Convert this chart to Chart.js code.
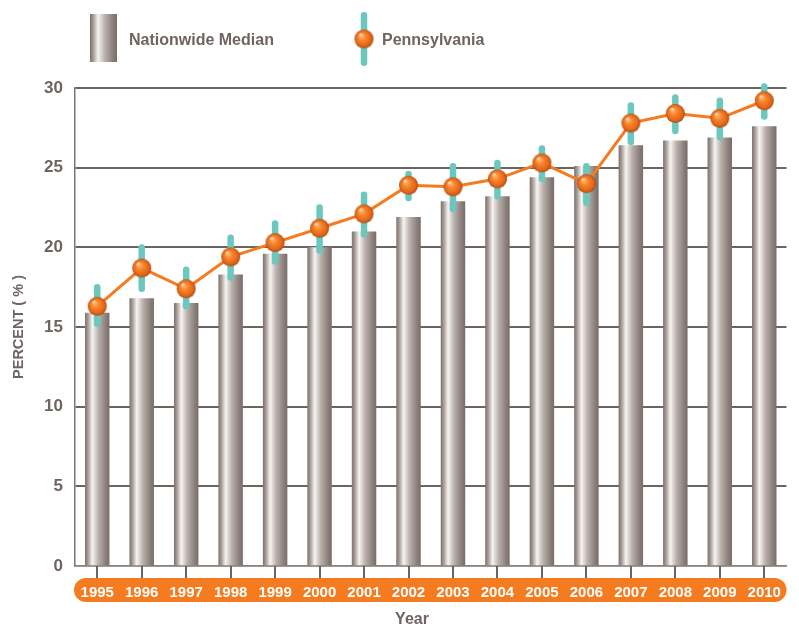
<!DOCTYPE html>
<html>
<head>
<meta charset="utf-8">
<script src="https://cdn.jsdelivr.net/npm/chart.js@4/dist/chart.umd.min.js"></script>
<style>
  html, body { margin: 0; padding: 0; background: #fff; }
  #wrap { width: 799px; height: 627px; }
</style>
</head>
<body>
<div id="wrap"><canvas id="chart" width="799" height="627"></canvas></div>
<script>
// data
const years = ['1995', '1996', '1997', '1998', '1999', '2000', '2001', '2002',
               '2003', '2004', '2005', '2006', '2007', '2008', '2009', '2010'];
const nationwideMedian = [15.9, 16.8, 16.5, 18.3, 19.6, 20.0, 21.0, 21.9,
                          22.9, 23.2, 24.4, 25.1, 26.4, 26.7, 26.9, 27.6];
const pennsylvania = [16.3, 18.7, 17.4, 19.4, 20.3, 21.2, 22.1, 23.9,
                      23.8, 24.3, 25.3, 24.0, 27.8, 28.4, 28.1, 29.2];
const paLow  = [15.0, 17.2, 16.1, 17.9, 18.9, 19.6, 20.6, 22.9,
                22.2, 23.0, 24.1, 22.6, 26.4, 27.1, 26.7, 28.0];
const paHigh = [17.7, 20.2, 18.8, 20.8, 21.7, 22.7, 23.5, 24.8,
                25.3, 25.5, 26.4, 25.3, 29.1, 29.6, 29.4, 30.3];
const yTicks = [0, 5, 10, 15, 20, 25, 30];

const TEXT = '#6e6461';
const GRID = '#6d6461';
const ORANGE = '#f47b20';
const TEAL = '#6cc8bf';
const FONT = "'Liberation Sans', Arial, sans-serif";
const BAR_PCT = 0.55;

Chart.defaults.font.family = FONT;
Chart.defaults.font.weight = 'bold';
Chart.defaults.color = TEXT;

// metallic bar fill between x0 and x1
function barGradient(ctx, x0, x1) {
    const g = ctx.createLinearGradient(x0, 0, x1, 0);
    g.addColorStop(0, '#7b6f6b');
    g.addColorStop(0.12, '#a59b97');
    g.addColorStop(0.3, '#f7f4f2');
    g.addColorStop(0.55, '#b9afab');
    g.addColorStop(0.85, '#8a7f7b');
    g.addColorStop(1, '#776c68');
    return g;
}

// orange ball marker
function makeBall(r) {
    const c = document.createElement('canvas');
    const s = Math.ceil(r * 2 + 2);
    c.width = s; c.height = s;
    const g = c.getContext('2d');
    const cx = s / 2, cy = s / 2;
    const rg = g.createRadialGradient(cx - r * 0.3, cy - r * 0.35, r * 0.1, cx, cy, r);
    rg.addColorStop(0, '#ffb46e');
    rg.addColorStop(0.35, '#f7842a');
    rg.addColorStop(0.8, '#e2651a');
    rg.addColorStop(1, '#a9480f');
    g.fillStyle = rg;
    g.beginPath();
    g.arc(cx, cy, r, 0, Math.PI * 2);
    g.fill();
    g.fillStyle = 'rgba(255,255,255,0.6)';
    g.beginPath();
    g.ellipse(cx - r * 0.35, cy - r * 0.45, r * 0.2, r * 0.12, -0.5, 0, Math.PI * 2);
    g.fill();
    return c;
}
const ball = makeBall(9.5);

function drawTealBar(ctx, x, yTop, yBot) {
    const w = 6.5;
    ctx.save();
    ctx.strokeStyle = TEAL;
    ctx.lineWidth = w;
    ctx.lineCap = 'round';
    ctx.beginPath();
    ctx.moveTo(x, yTop + w / 2);
    ctx.lineTo(x, yBot - w / 2);
    ctx.stroke();
    ctx.restore();
}

// error bars under the Pennsylvania line
const errorBars = {
    id: 'errorBars',
    beforeDatasetDraw(chart, args) {
        if (args.index !== 1) return;
        const { ctx, scales: { x, y } } = chart;
        paLow.forEach((lo, i) => {
            drawTealBar(ctx, x.getPixelForValue(i), y.getPixelForValue(paHigh[i]), y.getPixelForValue(lo));
        });
    }
};

// orange rounded band behind year labels, tick marks at bar centres
const yearBand = {
    id: 'yearBand',
    beforeDraw(chart) {
        const { ctx, chartArea } = chart;
        ctx.save();
        ctx.fillStyle = ORANGE;
        ctx.beginPath();
        ctx.roundRect(chartArea.left - 1, chartArea.bottom + 12, chartArea.right - chartArea.left + 1, 24, 12);
        ctx.fill();
        ctx.restore();
    },
    afterDraw(chart) {
        const { ctx, chartArea, scales: { x } } = chart;
        ctx.save();
        ctx.strokeStyle = GRID;
        ctx.lineWidth = 2;
        ctx.beginPath();
        years.forEach((_, i) => {
            const px = Math.round(x.getPixelForValue(i));
            ctx.moveTo(px, chartArea.bottom);
            ctx.lineTo(px, chartArea.bottom + 12);
        });
        ctx.stroke();
        ctx.restore();
    }
};

// legend + x title
const decorations = {
    id: 'decorations',
    afterDraw(chart) {
        const { ctx } = chart;
        const ds = chart.data.datasets;
        ctx.save();
        ctx.fillStyle = barGradient(ctx, 90, 117);
        ctx.fillRect(90, 14, 27, 48);

        drawTealBar(ctx, 364, 12, 66);
        ctx.drawImage(ball, 364 - ball.width / 2, 39 - ball.height / 2);

        ctx.fillStyle = TEXT;
        ctx.font = 'bold 16px ' + FONT;
        ctx.textBaseline = 'middle';
        ctx.textAlign = 'left';
        ctx.fillText(ds[0].label, 129, 41);
        ctx.fillText(ds[1].label, 382, 41);

        ctx.textAlign = 'center';
        ctx.font = 'bold 16px ' + FONT;
        ctx.fillText('Year', 412, 620);
        ctx.restore();
    }
};

const chartCtx = document.getElementById('chart').getContext('2d');
new Chart(chartCtx, {
    type: 'bar',
    data: {
        labels: years,
        datasets: [{
            type: 'bar',
            label: 'Nationwide Median',
            data: nationwideMedian,
            order: 2,
            categoryPercentage: 1,
            barPercentage: BAR_PCT,
            borderWidth: 0,
            backgroundColor: (c) => {
                const chart = c.chart;
                const xs = chart.scales.x;
                if (!chart.chartArea || !xs || c.dataIndex === undefined) return '#a59b97';
                const px = xs.getPixelForValue(c.dataIndex);
                const half = xs.width / years.length * BAR_PCT / 2;
                return barGradient(chart.ctx, px - half, px + half);
            }
        }, {
            type: 'line',
            label: 'Pennsylvania',
            data: pennsylvania,
            order: 1,
            borderColor: ORANGE,
            borderWidth: 3,
            tension: 0,
            clip: false,
            pointStyle: ball,
            pointRadius: 9.5,
            pointHoverRadius: 9.5
        }]
    },
    options: {
        responsive: false,
        animation: false,
        events: [],
        layout: { padding: { top: 88, right: 5, bottom: 0, left: 0 } },
        plugins: {
            legend: { display: false },
            tooltip: { enabled: false }
        },
        scales: {
            x: {
                offset: true,
                grid: {
                    display: false,
                    tickLength: 12
                },
                border: { display: true, color: '#8a807c', width: 1.5 },
                ticks: {
                    color: '#ffffff',
                    font: { size: 15, weight: 'bold' },
                    padding: 6,
                    maxRotation: 0,
                    autoSkip: false
                },
                afterFit: (s) => { s.height = 61; }
            },
            y: {
                min: yTicks[0],
                max: yTicks[yTicks.length - 1],
                afterBuildTicks: (s) => { s.ticks = yTicks.map(v => ({ value: v })); },
                grid: {
                    drawTicks: false,
                    color: GRID,
                    lineWidth: (c) => (c.tick && c.tick.value === 0 ? 1.5 : 2)
                },
                border: { display: true, color: '#7d7370', width: 1.5 },
                ticks: {
                    color: TEXT,
                    font: { size: 17, weight: 'bold' },
                    padding: 12
                },
                title: {
                    display: true,
                    text: 'PERCENT ( % )',
                    color: TEXT,
                    font: { size: 14.5, weight: 'bold' },
                    padding: { top: 10, bottom: 0 }
                },
                afterFit: (s) => { s.width = 75; }
            }
        }
    },
    plugins: [yearBand, errorBars, decorations]
});
</script>
</body>
</html>
